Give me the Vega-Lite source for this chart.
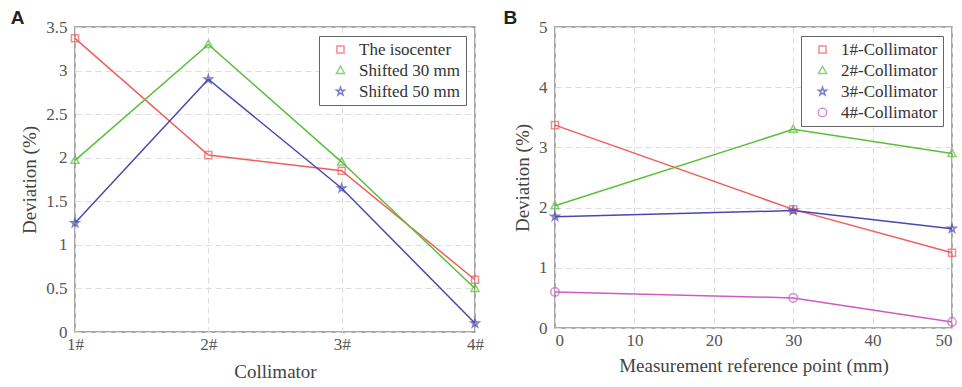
{
  "$schema": "https://vega.github.io/schema/vega-lite/v6.json",
  "background": "white",
  "padding": {"left": 10, "top": 8, "right": 1, "bottom": 0},
  "config": {
    "font": "Liberation Serif",
    "view": {"stroke": "#8a8a8a", "strokeWidth": 1.5},
    "axis": {
      "labelFont": "Liberation Serif",
      "labelFontSize": 17,
      "labelColor": "#555555",
      "titleFont": "Liberation Serif",
      "titleFontSize": 19,
      "titleFontWeight": "normal",
      "titleColor": "#444444",
      "grid": true,
      "gridColor": "#dddddd",
      "gridDash": [6, 4],
      "gridWidth": 1,
      "domain": false,
      "ticks": false,
      "labelPadding": 8
    },
    "legend": {
      "labelFont": "Liberation Serif",
      "labelFontSize": 17,
      "labelColor": "#333333",
      "strokeColor": "#666666",
      "fillColor": "white",
      "padding": 5,
      "rowPadding": 3,
      "symbolSize": 50,
      "symbolStrokeWidth": 1.5,
      "symbolOffset": 8,
      "labelOffset": 10,
      "offset": 9,
      "title": null
    },
    "title": {"font": "Liberation Sans", "fontSize": 19, "fontWeight": "bold", "color": "#222222", "anchor": "start", "frame": "bounds"}
  },
  "datasets": {
    "a": [
      {"collimator": "1#", "series": "The isocenter", "value": 3.37},
      {"collimator": "2#", "series": "The isocenter", "value": 2.03},
      {"collimator": "3#", "series": "The isocenter", "value": 1.85},
      {"collimator": "4#", "series": "The isocenter", "value": 0.6},
      {"collimator": "1#", "series": "Shifted 30 mm", "value": 1.97},
      {"collimator": "2#", "series": "Shifted 30 mm", "value": 3.3},
      {"collimator": "3#", "series": "Shifted 30 mm", "value": 1.95},
      {"collimator": "4#", "series": "Shifted 30 mm", "value": 0.5},
      {"collimator": "1#", "series": "Shifted 50 mm", "value": 1.25},
      {"collimator": "2#", "series": "Shifted 50 mm", "value": 2.9},
      {"collimator": "3#", "series": "Shifted 50 mm", "value": 1.65},
      {"collimator": "4#", "series": "Shifted 50 mm", "value": 0.1}
    ],
    "b": [
      {"point": 0, "collimatorSeries": "1#-Collimator", "dev": 3.37},
      {"point": 30, "collimatorSeries": "1#-Collimator", "dev": 1.97},
      {"point": 50, "collimatorSeries": "1#-Collimator", "dev": 1.25},
      {"point": 0, "collimatorSeries": "2#-Collimator", "dev": 2.03},
      {"point": 30, "collimatorSeries": "2#-Collimator", "dev": 3.3},
      {"point": 50, "collimatorSeries": "2#-Collimator", "dev": 2.9},
      {"point": 0, "collimatorSeries": "3#-Collimator", "dev": 1.85},
      {"point": 30, "collimatorSeries": "3#-Collimator", "dev": 1.95},
      {"point": 50, "collimatorSeries": "3#-Collimator", "dev": 1.65},
      {"point": 0, "collimatorSeries": "4#-Collimator", "dev": 0.6},
      {"point": 30, "collimatorSeries": "4#-Collimator", "dev": 0.5},
      {"point": 50, "collimatorSeries": "4#-Collimator", "dev": 0.1}
    ]
  },
  "hconcat": [
    {
      "title": {"text": "A", "dx": -10, "offset": -10},
      "width": 400,
      "height": 305,
      "data": {"name": "a"},
      "encoding": {
        "x": {"field": "collimator", "type": "ordinal", "scale": {"type": "point", "padding": 0}, "axis": {"title": "Collimator", "labelAngle": 0, "labelPadding": 4, "titlePadding": 10}},
        "y": {"field": "value", "type": "quantitative", "scale": {"domain": [0, 3.5]}, "axis": {"title": "Deviation (%)", "values": [0, 0.5, 1, 1.5, 2, 2.5, 3, 3.5], "format": "~g", "titlePadding": 6}},
        "color": {"field": "series", "type": "nominal", "scale": {"domain": ["The isocenter", "Shifted 30 mm", "Shifted 50 mm"], "range": ["#f25c5c", "#5cbf3a", "#4848b0"]}, "legend": {"orient": "top-right"}}
      },
      "layer": [
        {"mark": {"type": "line", "strokeWidth": 1.5}, "encoding": {"detail": {"field": "series"}}},
        {
          "mark": {"type": "point", "filled": false, "strokeWidth": 1.5, "size": 50},
          "encoding": {
            "shape": {"field": "series", "type": "nominal", "scale": {"domain": ["The isocenter", "Shifted 30 mm", "Shifted 50 mm"], "range": ["M-1,-1H1V1H-1Z", "M0,-1.2L1.15,0.85H-1.15Z", "M0,-1.2L0.27,-0.37L1.14,-0.37L0.44,0.14L0.71,0.97L0,0.46L-0.71,0.97L-0.44,0.14L-1.14,-0.37L-0.27,-0.37Z"]}, "legend": {"orient": "top-right"}}
          }
        }
      ]
    },
    {
      "title": {"text": "B", "dx": -10, "offset": -10},
      "width": 397,
      "height": 301,
      "data": {"name": "b"},
      "encoding": {
        "x": {"field": "point", "type": "quantitative", "scale": {"domain": [0, 50], "nice": false}, "axis": {"title": "Measurement reference point (mm)", "values": [0, 10, 20, 30, 40, 50], "labelPadding": 4, "titlePadding": 8}},
        "y": {"field": "dev", "type": "quantitative", "scale": {"domain": [0, 5]}, "axis": {"title": "Deviation (%)", "values": [0, 1, 2, 3, 4, 5], "titlePadding": 6}},
        "color": {"field": "collimatorSeries", "type": "nominal", "scale": {"domain": ["1#-Collimator", "2#-Collimator", "3#-Collimator", "4#-Collimator"], "range": ["#f25c5c", "#5cbf3a", "#4848b0", "#cc5cc4"]}, "legend": {"orient": "top-right"}}
      },
      "layer": [
        {"mark": {"type": "line", "strokeWidth": 1.5}, "encoding": {"detail": {"field": "collimatorSeries"}}},
        {
          "mark": {"type": "point", "filled": false, "strokeWidth": 1.5, "size": 50},
          "encoding": {
            "shape": {"field": "collimatorSeries", "type": "nominal", "scale": {"domain": ["1#-Collimator", "2#-Collimator", "3#-Collimator", "4#-Collimator"], "range": ["M-1,-1H1V1H-1Z", "M0,-1.2L1.15,0.85H-1.15Z", "M0,-1.2L0.27,-0.37L1.14,-0.37L0.44,0.14L0.71,0.97L0,0.46L-0.71,0.97L-0.44,0.14L-1.14,-0.37L-0.27,-0.37Z", "M1.2,0A1.2,1.2,0,1,1,-1.2,0A1.2,1.2,0,1,1,1.2,0Z"]}, "legend": {"orient": "top-right"}}
          }
        }
      ]
    }
  ],
  "spacing": 17,
  "resolve": {"scale": {"color": "independent", "shape": "independent", "x": "independent", "y": "independent"}, "legend": {"color": "independent", "shape": "independent"}}
}
